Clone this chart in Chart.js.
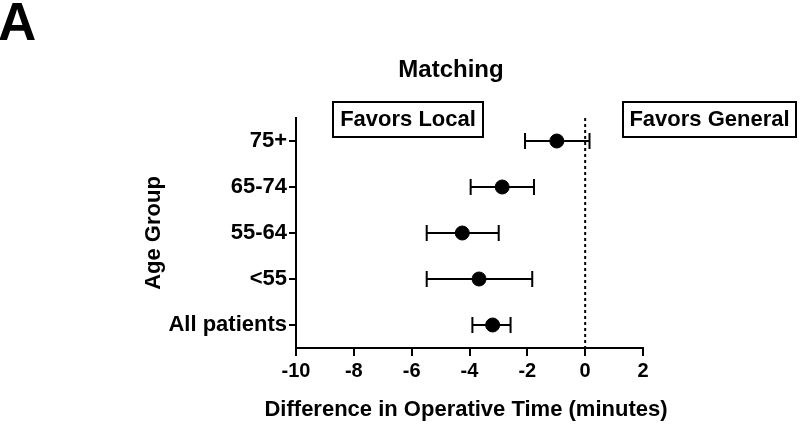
<!DOCTYPE html>
<html>
<head>
<meta charset="utf-8">
<script src="https://cdn.jsdelivr.net/npm/chart.js@4.4.1/dist/chart.umd.min.js"></script>
<style>
  html, body { margin: 0; padding: 0; background: #fff; }
  #wrap { width: 800px; height: 425px; position: relative; }
</style>
</head>
<body>
<div id="wrap"><canvas id="forestChart"></canvas></div>
<script>
// Age groups, bottom to top
const groups = ['All patients', '<55', '55-64', '65-74', '75+'];
const estimates = [-3.2, -3.67, -4.25, -2.87, -0.98];
const lowerCI = [-3.9, -5.48, -5.48, -3.96, -2.08];
const upperCI = [-2.58, -1.83, -2.99, -1.77, 0.15];
const xTicks = [-10, -8, -6, -4, -2, 0, 2];

const FONT = '"Liberation Sans", Arial, Helvetica, sans-serif';

// Error bars, zero reference line and captions
const decorations = {
    id: 'decorations',
    beforeDatasetsDraw(chart) {
        const ctx = chart.ctx;
        const x = chart.scales.x;
        const y = chart.scales.y;
        const area = chart.chartArea;

        // dotted line at 0
        ctx.save();
        ctx.strokeStyle = '#000';
        ctx.lineWidth = 2;
        ctx.setLineDash([3, 3]);
        ctx.beginPath();
        ctx.moveTo(x.getPixelForValue(0), area.top);
        ctx.lineTo(x.getPixelForValue(0), area.bottom);
        ctx.stroke();
        ctx.restore();

        // error bars
        ctx.save();
        ctx.strokeStyle = '#000';
        ctx.lineWidth = 2;
        groups.forEach((g, i) => {
            const py = y.getPixelForValue(i);
            const x1 = x.getPixelForValue(lowerCI[i]);
            const x2 = x.getPixelForValue(upperCI[i]);
            ctx.beginPath();
            ctx.moveTo(x1, py);
            ctx.lineTo(x2, py);
            ctx.moveTo(x1, py - 8);
            ctx.lineTo(x1, py + 8);
            ctx.moveTo(x2, py - 8);
            ctx.lineTo(x2, py + 8);
            ctx.stroke();
        });
        ctx.restore();
    },
    afterDraw(chart) {
        const ctx = chart.ctx;
        ctx.save();
        ctx.fillStyle = '#000';
        ctx.textBaseline = 'middle';

        ctx.font = 'bold 53px ' + FONT;
        ctx.textAlign = 'left';
        ctx.fillText('A', -2, 25);

        ctx.font = 'bold 24px ' + FONT;
        ctx.textAlign = 'center';
        ctx.fillText('Matching', 451, 70);

        // x axis title (drawn here so it is not squeezed to the plot width)
        ctx.font = 'bold 22px ' + FONT;
        ctx.fillText('Difference in Operative Time (minutes)', 466, 410);

        // caption boxes
        const boxes = [
            { text: 'Favors Local', left: 333, right: 483 },
            { text: 'Favors General', left: 623, right: 796 }
        ];
        ctx.lineWidth = 2;
        ctx.strokeStyle = '#000';
        boxes.forEach(b => {
            ctx.strokeRect(b.left, 102, b.right - b.left, 35);
            ctx.fillText(b.text, (b.left + b.right) / 2, 120);
        });
        ctx.restore();
    }
};

new Chart(document.getElementById('forestChart'), {
    type: 'scatter',
    data: {
        datasets: [{
            data: estimates.map((v, i) => ({ x: v, y: i })),
            backgroundColor: '#000',
            borderColor: '#000',
            pointRadius: 7,
            pointHoverRadius: 7
        }]
    },
    options: {
        responsive: true,
        maintainAspectRatio: false,
        animation: false,
        layout: { padding: { left: 137, right: 157, top: 118, bottom: 0 } },
        plugins: {
            legend: { display: false },
            tooltip: { enabled: false }
        },
        scales: {
            x: {
                type: 'linear',
                min: -10,
                max: 2,
                afterBuildTicks: (scale) => { scale.ticks = xTicks.map(v => ({ value: v })); },
                afterFit: (scale) => { scale.height = 77; },
                border: { display: true, color: '#000', width: 2 },
                grid: { drawOnChartArea: false, drawTicks: true, tickLength: 8, color: '#000', lineWidth: 2 },
                ticks: { color: '#000', font: { family: FONT, size: 20, weight: 'bold' }, padding: 3 }
            },
            y: {
                type: 'linear',
                min: -0.5,
                max: 4.5,
                afterBuildTicks: (scale) => { scale.ticks = groups.map((g, i) => ({ value: i })); },
                afterFit: (scale) => { scale.width = 159; },
                border: { display: true, color: '#000', width: 2 },
                grid: { drawOnChartArea: false, drawTicks: true, tickLength: 7, color: '#000', lineWidth: 2 },
                ticks: {
                    color: '#000',
                    font: { family: FONT, size: 22, weight: 'bold' },
                    padding: 2,
                    callback: (v) => groups[v]
                },
                title: {
                    display: true,
                    text: 'Age Group',
                    color: '#000',
                    font: { family: FONT, size: 22, weight: 'bold' },
                    padding: { top: 4, bottom: 4 }
                }
            }
        }
    },
    plugins: [decorations]
});
</script>
</body>
</html>
